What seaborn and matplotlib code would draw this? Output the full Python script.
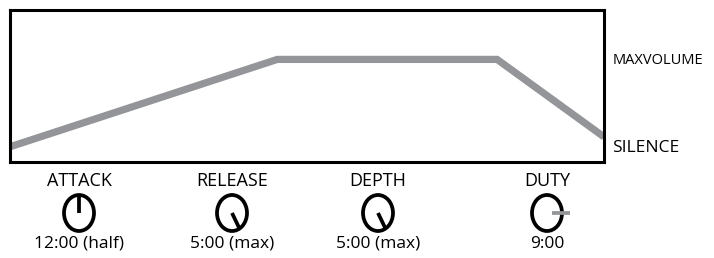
import matplotlib
matplotlib.use('Agg')
import matplotlib.pyplot as plt
from matplotlib.patches import Ellipse
import numpy as np
import pandas as pd
import seaborn as sns

# --- DATA ---
# envelope shape: time (% of cycle) vs volume level (0 = bottom of box, 1 = top)
env_time = [0, 45, 82, 100]
env_level = [0.10, 0.675, 0.675, 0.165]

level_names = ['SILENCE', 'MAXVOLUME']
level_values = [0.105, 0.684]

knob_names = ['ATTACK', 'RELEASE', 'DEPTH', 'DUTY']
knob_settings = ['12:00 (half)', '5:00 (max)', '5:00 (max)', '9:00']
pointer_hours = [12, 5, 5, 3]  # direction the drawn pointer faces

# --- LAYOUT ---
W, H = 714, 258
knob_x = [79, 232, 378, 547]   # pixel centres
knob_y = 213
name_y = 181
value_y = 244
rx, ry = 15, 18
pointer_colors = ['black', 'black', 'black', '#939598']

sns.set_style('white')
plt.rcParams['font.family'] = ['Open Sans', 'DejaVu Sans']
plt.rcParams['text.color'] = 'black'
plt.rcParams['ytick.color'] = 'black'

fig = plt.figure(figsize=(W / 100, H / 100), dpi=100)

# envelope box
ax = fig.add_axes([10 / W, (H - 162) / H, 594 / W, 152 / H])
df = pd.DataFrame({'time': env_time, 'level': env_level})
sns.lineplot(data=df, x='time', y='level', ax=ax, color='#939598', lw=5.2,
             solid_capstyle='butt', solid_joinstyle='miter', clip_on=True)
ax.set_xlim(0, 100)
ax.set_ylim(0, 1)
ax.set_xticks([])
ax.set_xlabel('')
ax.set_ylabel('')
ax.yaxis.tick_right()
ax.set_yticks(level_values)
ax.set_yticklabels(level_names, fontsize=12.5)
ax.tick_params(axis='y', length=0, pad=6, labelcolor='black')
for lbl in ax.get_yticklabels():
    if lbl.get_text() == 'MAXVOLUME':
        lbl.set_fontsize(10.5)
for s in ax.spines.values():
    s.set_visible(True)
    s.set_color('black')
    s.set_linewidth(2.2)

# knobs, drawn in pixel coordinates
kx = fig.add_axes([0, 0, 1, 1])
kx.set_xlim(0, W)
kx.set_ylim(H, 0)
kx.axis('off')
kx.patch.set_alpha(0)
for x, name, setting, hr, col in zip(knob_x, knob_names, knob_settings,
                                      pointer_hours, pointer_colors):
    kx.add_patch(Ellipse((x, knob_y), 2 * rx, 2 * ry, fill=False,
                         ec='black', lw=2.7))
    ang = np.deg2rad(hr * 30)
    dx, dy = np.sin(ang), -np.cos(ang)
    if col == 'black':
        r0, r1 = 0.0, 1.0
    else:
        r0, r1 = 0.3, 1.55
    kx.plot([x + r0 * rx * dx, x + r1 * rx * dx],
            [knob_y + r0 * ry * dy, knob_y + r1 * ry * dy],
            color=col, lw=2.7, solid_capstyle='butt')
    kx.text(x, name_y, name, ha='center', va='center', fontsize=13)
    kx.text(x, value_y, setting, ha='center', va='center', fontsize=12.5)

fig.savefig('out.png', dpi=100)
